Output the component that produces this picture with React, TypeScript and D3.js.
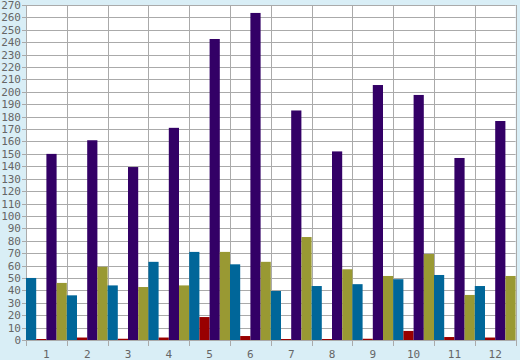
import React from "react";
import * as d3 from "d3";

const categories = ["1", "2", "3", "4", "5", "6", "7", "8", "9", "10", "11", "12"];
const seriesNames = ["A", "B", "C", "D"];
const seriesA = [50, 36, 44, 63, 71, 61, 39.5, 43.5, 45, 49, 52.4, 43.5];
const seriesB = [0.8, 2, 1, 2, 18.5, 3.2, 0.8, 0.8, 1, 7.3, 2.4, 2];
const seriesC = [150, 161, 139.4, 171, 242.6, 263.6, 185, 152, 205.5, 197.5, 146.7, 176.5];
const seriesD = [46, 59, 42.7, 44, 71, 63, 83, 57, 51.6, 69.3, 36.3, 51.6];
const yTicks = d3.range(0, 271, 10);

const colors = ["#006699", "#990000", "#330066", "#999933"];

export default function App() {
  const W = 520, H = 360;
  const left = 26, right = 515.6, top = 5, bottom = 340;
  const x = d3.scaleBand<string>().domain(categories).range([left, right]).padding(0);
  const xs = d3.scaleBand<string>().domain(seriesNames).range([0, x.bandwidth()]).padding(0);
  const y = d3.scaleLinear().domain([0, 270]).range([bottom, top]);
  const data = [seriesA, seriesB, seriesC, seriesD];
  const bounds = categories.map((c) => x(c)!).concat([right]);
  return (
    <svg width={W} height={H} style={{ position: "absolute", left: 0, top: 0 }}>
      <rect x={0} y={0} width={W} height={H} fill="#d9eef6" />
      <rect x={left} y={top} width={right - left} height={bottom - top} fill="#ffffff" />
      {yTicks.map((t) => (
        <g key={t}>
          <line x1={left - 4} x2={right} y1={Math.round(y(t)) + 0.5} y2={Math.round(y(t)) + 0.5} stroke="#aaaaaa" strokeWidth={1} />
          <text x={21} y={y(t) + 4} textAnchor="end" fontFamily="DejaVu Sans Mono, monospace" fontSize={11} fill="#666666">{t}</text>
        </g>
      ))}
      {bounds.map((b, i) => (
        <line key={i} x1={Math.round(b) + 0.5} x2={Math.round(b) + 0.5} y1={top} y2={bottom + 6} stroke="#aaaaaa" strokeWidth={1} />
      ))}
      {categories.map((c, ci) => (
        <g key={c}>
          {data.map((s, si) => (
            <rect key={si} x={x(c)! + xs(seriesNames[si])!} width={xs.bandwidth()} y={y(s[ci])} height={bottom - y(s[ci])} fill={colors[si]} />
          ))}
          <text x={x(c)! + x.bandwidth() / 2} y={357.5} textAnchor="middle" fontFamily="DejaVu Sans Mono, monospace" fontSize={11} fill="#666666">{c}</text>
        </g>
      ))}
    </svg>
  );
}
